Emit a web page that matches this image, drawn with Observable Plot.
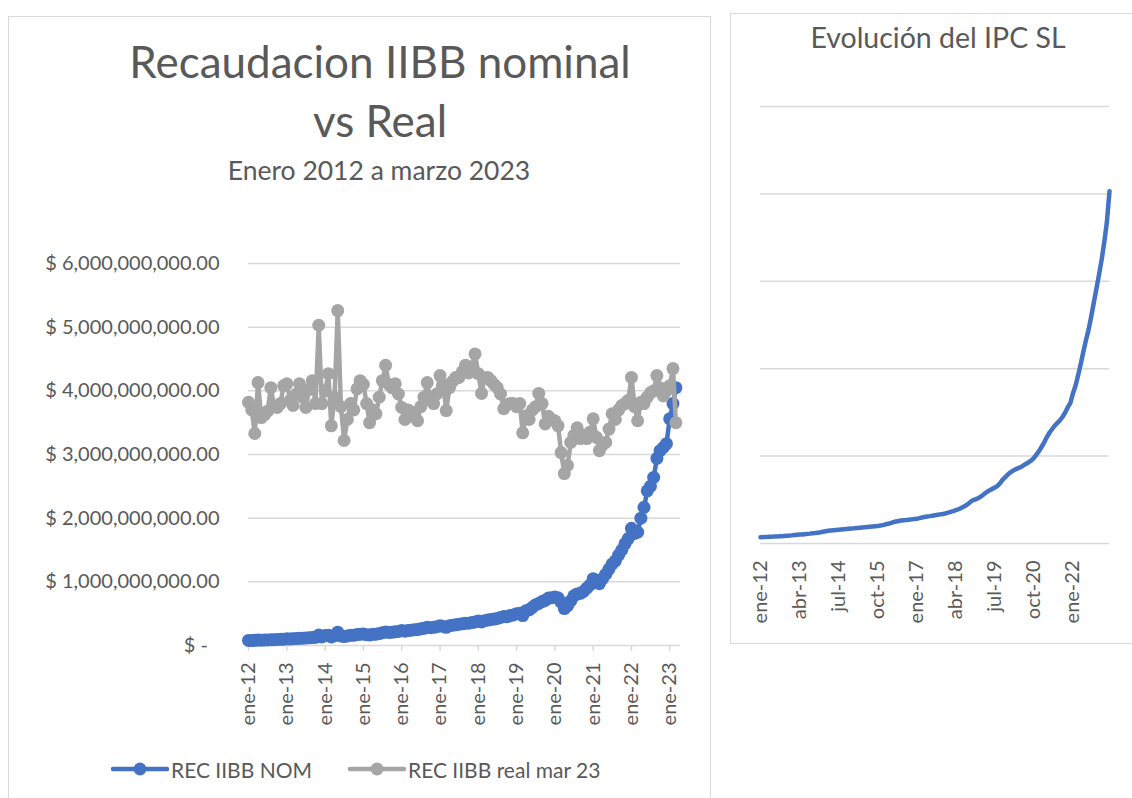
<!DOCTYPE html>
<html>
<head>
<meta charset="utf-8">
<script src="https://cdn.jsdelivr.net/npm/d3@7"></script>
<script src="https://cdn.jsdelivr.net/npm/@observablehq/plot@0.6"></script>
<style>
  body { margin: 0; background: #fff; width: 1132px; height: 798px; overflow: hidden; position: relative; font-family: Lato, sans-serif; color: #595959; }
  .panel { position: absolute; border: 1.5px solid #d9d9d9; box-sizing: border-box; background: #fff; }
  .txt { position: absolute; white-space: nowrap; line-height: 1.2; color: #595959; }
  .chart { position: absolute; top: 0; }
  .leg { position: absolute; display: flex; align-items: center; font-size: 21px; color: #595959; white-space: nowrap; }
</style>
</head>
<body>
<div class="panel" style="left:8px;top:16px;width:703px;height:800px;"></div>
<div class="panel" style="left:730px;top:13px;width:420px;height:631px;"></div>

<div class="txt" style="left:380px;top:35px;font-size:44px;transform:translateX(-50%);">Recaudacion IIBB nominal</div>
<div class="txt" style="left:380px;top:94px;font-size:44px;transform:translateX(-50%);">vs Real</div>
<div class="txt" style="left:379px;top:155px;font-size:26.5px;transform:translateX(-50%);">Enero 2012 a marzo 2023</div>
<div class="txt" style="left:938px;top:20px;font-size:28.5px;transform:translateX(-50%);">Evolución del IPC SL</div>

<div id="left" class="chart" style="left:0px;"></div>
<div id="right" class="chart" style="left:730px;"></div>

<div class="leg" style="left:111px;top:756px;">
  <svg width="58" height="26"><line x1="2" y1="13" x2="56" y2="13" stroke="#4472C4" stroke-width="4.5" stroke-linecap="round"/><circle cx="29" cy="13" r="6.5" fill="#4472C4"/></svg>
  <span style="margin-left:2px;">REC IIBB NOM</span>
</div>
<div class="leg" style="left:348px;top:756px;">
  <svg width="58" height="26"><line x1="2" y1="13" x2="56" y2="13" stroke="#A5A5A5" stroke-width="4.5" stroke-linecap="round"/><circle cx="29" cy="13" r="6.5" fill="#A5A5A5"/></svg>
  <span style="margin-left:2px;">REC IIBB real mar 23</span>
</div>

<script>
// ---- Data (monthly, enero 2012 .. marzo 2023) ----
const MESES = ["ene","feb","mar","abr","may","jun","jul","ago","sep","oct","nov","dic"];
const anioInicio = 2012;
const cantMeses = 135;

// REC IIBB NOM (miles de millones de $)
const recNom = [
  0.080, 0.078, 0.082, 0.085, 0.083, 0.086, 0.088, 0.090, 0.092, 0.095, 0.097, 0.100,
  0.105, 0.103, 0.107, 0.110, 0.112, 0.115, 0.118, 0.120, 0.124, 0.128, 0.165, 0.135,
  0.157, 0.160, 0.135, 0.155, 0.210, 0.150, 0.140, 0.150, 0.162, 0.160, 0.172, 0.178,
  0.180, 0.170, 0.165, 0.175, 0.178, 0.188, 0.200, 0.212, 0.205, 0.208, 0.215, 0.220,
  0.235, 0.225, 0.235, 0.240, 0.248, 0.250, 0.262, 0.270, 0.285, 0.280, 0.285, 0.295,
  0.310, 0.300, 0.285, 0.310, 0.320, 0.325, 0.335, 0.340, 0.350, 0.350, 0.360, 0.370,
  0.385, 0.370, 0.390, 0.400, 0.410, 0.415, 0.425, 0.440, 0.455, 0.450, 0.470, 0.480,
  0.500, 0.505, 0.470, 0.545, 0.560, 0.600, 0.640, 0.660, 0.690, 0.710, 0.745, 0.750,
  0.760, 0.750, 0.680, 0.580, 0.620, 0.700, 0.780, 0.810, 0.820, 0.850, 0.900, 0.950,
  1.05, 1.00, 0.97, 1.05, 1.12, 1.20, 1.28, 1.33, 1.42, 1.50, 1.60, 1.68,
  1.84, 1.76, 1.78, 2.00, 2.17, 2.43, 2.50, 2.64, 2.94, 3.06, 3.11, 3.17,
  3.56, 3.80, 4.05
];

// REC IIBB real mar 23 (miles de millones de $)
const recReal = [
  3.82, 3.70, 3.33, 4.13, 3.58, 3.62, 3.68, 4.05, 3.75, 3.74, 3.80, 4.08,
  4.11, 3.85, 3.77, 3.95, 4.11, 3.90, 3.74, 4.02, 4.16, 3.80, 5.03, 3.80,
  4.00, 4.27, 3.45, 3.90, 5.26, 3.75, 3.22, 3.55, 3.80, 3.70, 4.03, 4.16,
  4.10, 3.80, 3.50, 3.70, 3.64, 3.90, 4.16, 4.40, 4.10, 4.05, 4.11, 3.95,
  3.74, 3.55, 3.70, 3.60, 3.66, 3.53, 3.75, 3.90, 4.13, 3.85, 3.80, 3.95,
  4.24, 4.10, 3.69, 4.05, 4.15, 4.21, 4.21, 4.30, 4.40, 4.28, 4.38, 4.58,
  4.27, 3.96, 4.20, 4.21, 4.16, 4.10, 4.05, 3.95, 3.72, 3.78, 3.80, 3.80,
  3.75, 3.80, 3.34, 3.61, 3.55, 3.70, 3.75, 3.96, 3.80, 3.48, 3.60, 3.55,
  3.53, 3.45, 3.03, 2.70, 2.83, 3.19, 3.30, 3.42, 3.25, 3.30, 3.25, 3.35,
  3.56, 3.27, 3.06, 3.15, 3.19, 3.40, 3.64, 3.55, 3.70, 3.77, 3.80, 3.85,
  4.21, 3.75, 3.53, 3.82, 3.80, 3.90, 3.97, 4.00, 4.24, 4.05, 3.92, 4.00,
  4.08, 4.35, 3.50
];

// IPC San Luis (indice)
const ipcSL = [
  72, 73, 75, 76, 78, 79, 81, 82, 84, 86, 88, 90,
  93, 96, 99, 102, 104, 107, 110, 113, 117, 120, 124, 128,
  134, 140, 145, 149, 152, 155, 158, 161, 164, 167, 170, 172,
  174, 177, 180, 183, 186, 189, 192, 195, 198, 201, 205, 210,
  218, 226, 234, 244, 252, 258, 263, 266, 268, 272, 276, 280,
  284, 290, 297, 304, 309, 313, 318, 323, 328, 333, 338, 344,
  353, 362, 371, 381, 392, 405, 420, 437, 460, 485, 500, 510,
  525, 545, 570, 590, 610, 625, 640, 660, 690, 730, 760, 790,
  815, 835, 850, 862, 875, 895, 912, 930, 950, 980, 1020, 1060,
  1110, 1160, 1220, 1270, 1310, 1350, 1380, 1410, 1450, 1500, 1560, 1610,
  1720, 1810, 1930, 2060, 2200, 2330, 2450, 2600, 2760, 2920, 3080, 3250,
  3450, 3680, 4030
];

const ticksRecaudacion = [0, 1e9, 2e9, 3e9, 4e9, 5e9, 6e9];
const ticksIPC = [0, 1000, 2000, 3000, 4000, 5000];

// ---- Derived tables ----
const fechas = d3.range(cantMeses).map(i => new Date(Date.UTC(anioInicio, i, 1)));
const etiquetas = fechas.map(d => MESES[d.getUTCMonth()] + "-" + String(d.getUTCFullYear()).slice(2));
const ticksAnios = fechas.filter(d => d.getUTCMonth() === 0);
const nom = fechas.map((d, i) => ({fecha: d, valor: recNom[i] * 1e9}));
const real = fechas.map((d, i) => ({fecha: d, valor: recReal[i] * 1e9}));
const ipc = etiquetas.map((e, i) => ({mes: e, ipc: ipcSL[i]}));

const fmtPeso = v => v === 0 ? "$ -\u2007" : "$ " + d3.format(",.2f")(v);
const fmtMes = d => MESES[d.getUTCMonth()] + "-" + String(d.getUTCFullYear()).slice(2);

const estilo = {fontFamily: "Lato, sans-serif", fontSize: "20px", color: "#595959", background: "transparent", overflow: "visible"};

const left = Plot.plot({
  width: 715, height: 745,
  marginTop: 263, marginBottom: 100, marginLeft: 248, marginRight: 35,
  style: estilo,
  x: {type: "utc", domain: [new Date(Date.UTC(2012, 0, 1)), new Date(Date.UTC(2023, 3, 14))]},
  y: {domain: [0, 6e9]},
  marks: [
    Plot.gridY(ticksRecaudacion, {stroke: "#d9d9d9", strokeOpacity: 1, strokeWidth: 1.5}),
    Plot.axisY(ticksRecaudacion, {tickSize: 0, tickPadding: 29, tickFormat: fmtPeso, fill: "#595959", label: null}),
    Plot.axisX(ticksAnios, {tickRotate: -90, tickSize: 6, tickPadding: 11, stroke: "#d9d9d9", strokeWidth: 1.5, fill: "#595959", tickFormat: fmtMes, label: null}),
    Plot.line(nom, {x: "fecha", y: "valor", stroke: "#4472C4", strokeWidth: 4.5, strokeLinejoin: "round"}),
    Plot.dot(nom, {x: "fecha", y: "valor", r: 6.5, fill: "#4472C4", stroke: "none"}),
    Plot.line(real, {x: "fecha", y: "valor", stroke: "#A5A5A5", strokeWidth: 4.5, strokeLinejoin: "round"}),
    Plot.dot(real, {x: "fecha", y: "valor", r: 6.5, fill: "#A5A5A5", stroke: "none"})
  ]
});
document.getElementById("left").appendChild(left);

const right = Plot.plot({
  width: 402, height: 660,
  marginTop: 106, marginBottom: 117, marginLeft: 30, marginRight: 23,
  style: estilo,
  x: {type: "point", domain: etiquetas, padding: 0},
  y: {domain: [0, 5000], axis: null},
  marks: [
    Plot.gridY(ticksIPC, {stroke: "#d9d9d9", strokeOpacity: 1, strokeWidth: 1.5}),
    Plot.axisX(etiquetas.filter((_, i) => i % 15 === 0), {tickRotate: -90, tickSize: 0, tickPadding: 17, fill: "#595959", label: null}),
    Plot.line(ipc, {x: "mes", y: "ipc", stroke: "#4472C4", strokeWidth: 4.5, strokeLinecap: "round", strokeLinejoin: "round"})
  ]
});
document.getElementById("right").appendChild(right);
</script>
</body>
</html>
